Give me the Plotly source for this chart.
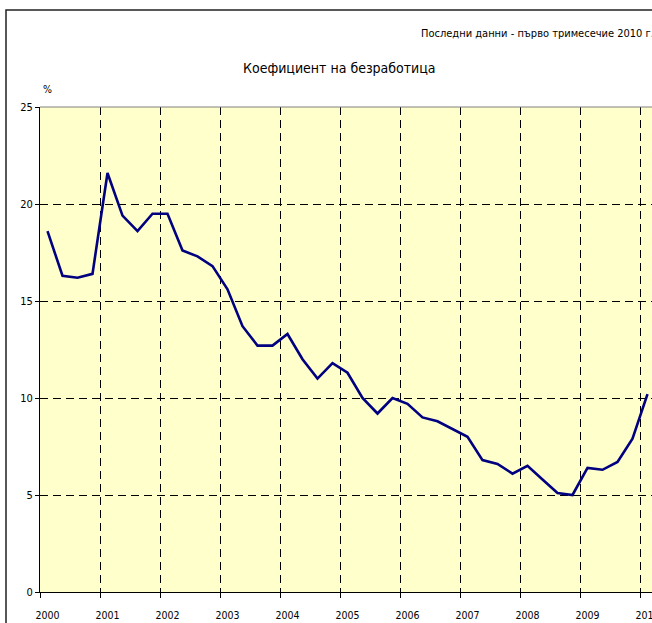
import plotly.graph_objects as go

# quarterly unemployment rate, %, Q1 2000 .. Q1 2010
years = list(range(2000, 2011))
rate = [
    18.6, 16.3, 16.2, 16.4,
    21.6, 19.4, 18.6, 19.5,
    19.5, 17.6, 17.3, 16.8,
    15.6, 13.7, 12.7, 12.7,
    13.3, 12.0, 11.0, 11.8,
    11.3, 10.0, 9.2, 10.0,
    9.7, 9.0, 8.8, 8.4,
    8.0, 6.8, 6.6, 6.1,
    6.5, 5.8, 5.1, 5.0,
    6.4, 6.3, 6.7, 7.9,
    10.2,
]
# each quarter sits in the middle of its quarter
quarter_pos = [2000 + (i + 0.5) / 4 for i in range(len(rate))]

title = "Коефициент на безработица"
subtitle = "Последни данни - първо тримесечие 2010 г."
font = "DejaVu Sans Condensed, Liberation Sans Narrow, sans-serif"

fig = go.Figure()
fig.add_trace(go.Scatter(
    x=quarter_pos, y=rate, mode="lines",
    line=dict(color="#000080", width=2.6),
    hoverinfo="skip", showlegend=False,
))

W, H = 652, 623
L, T, B = 40, 107, 31
pw, ph = W - L, H - T - B


def px(x):
    return (x - L) / pw


def py(y):
    return (H - B - y) / ph


fig.update_layout(
    width=W, height=H,
    margin=dict(l=L, r=0, t=T, b=B, autoexpand=False),
    paper_bgcolor="white",
    plot_bgcolor="#FFFFCC",
    font=dict(family=font, size=11, color="black"),
    xaxis=dict(
        range=[2000, 2000 + pw / 60],
        tickmode="array",
        tickvals=[y + 0.125 for y in years],
        ticktext=[str(y) for y in years],
        tickfont=dict(size=10.5),
        ticklabeloverflow="allow",
        automargin=False,
        ticks="outside", ticklen=13, tickcolor="rgba(0,0,0,0)",
        showgrid=False, zeroline=False,
        showline=True, linecolor="black", linewidth=1,
        minor=dict(
            tickmode="array", tickvals=years,
            ticks="outside", ticklen=5, tickcolor="black",
            showgrid=True, gridcolor="black", gridwidth=1,
            griddash="8px,5px",
        ),
        fixedrange=True,
    ),
    yaxis=dict(
        range=[0, 25],
        tickvals=[0, 5, 10, 15, 20, 25],
        tickfont=dict(size=11),
        automargin=False,
        ticks="outside", ticklen=4, tickcolor="black",
        showgrid=True, gridcolor="black", gridwidth=1, griddash="8px,5px",
        zeroline=False,
        showline=True, linecolor="black", linewidth=1,
        fixedrange=True,
    ),
    shapes=[
        # top edge of the plot area
        dict(type="line", xref="paper", yref="paper", x0=0, x1=1, y0=1, y1=1,
             line=dict(color="#808080", width=1)),
        # outer chart frame
        dict(type="rect", xref="paper", yref="paper",
             x0=px(6), x1=px(W + 20), y0=py(10), y1=py(H + 20),
             line=dict(color="#222222", width=1.5), layer="above"),
    ],
    annotations=[
        dict(text=title, xref="paper", yref="paper", x=px(339), y=py(68),
             xanchor="center", yanchor="middle", showarrow=False,
             font=dict(size=14)),
        dict(text=subtitle, xref="paper", yref="paper", x=px(419), y=py(33),
             xanchor="left", yanchor="middle", showarrow=False,
             font=dict(size=11)),
        dict(text="%", xref="paper", yref="paper", x=px(47), y=py(89),
             xanchor="center", yanchor="middle", showarrow=False,
             font=dict(size=10.5)),
    ],
)

# the page body has an 8px default margin; drop it so the chart fills the window
fig.write_html("out.html", config={"displayModeBar": False},
               post_script="document.body.style.margin='0';")
